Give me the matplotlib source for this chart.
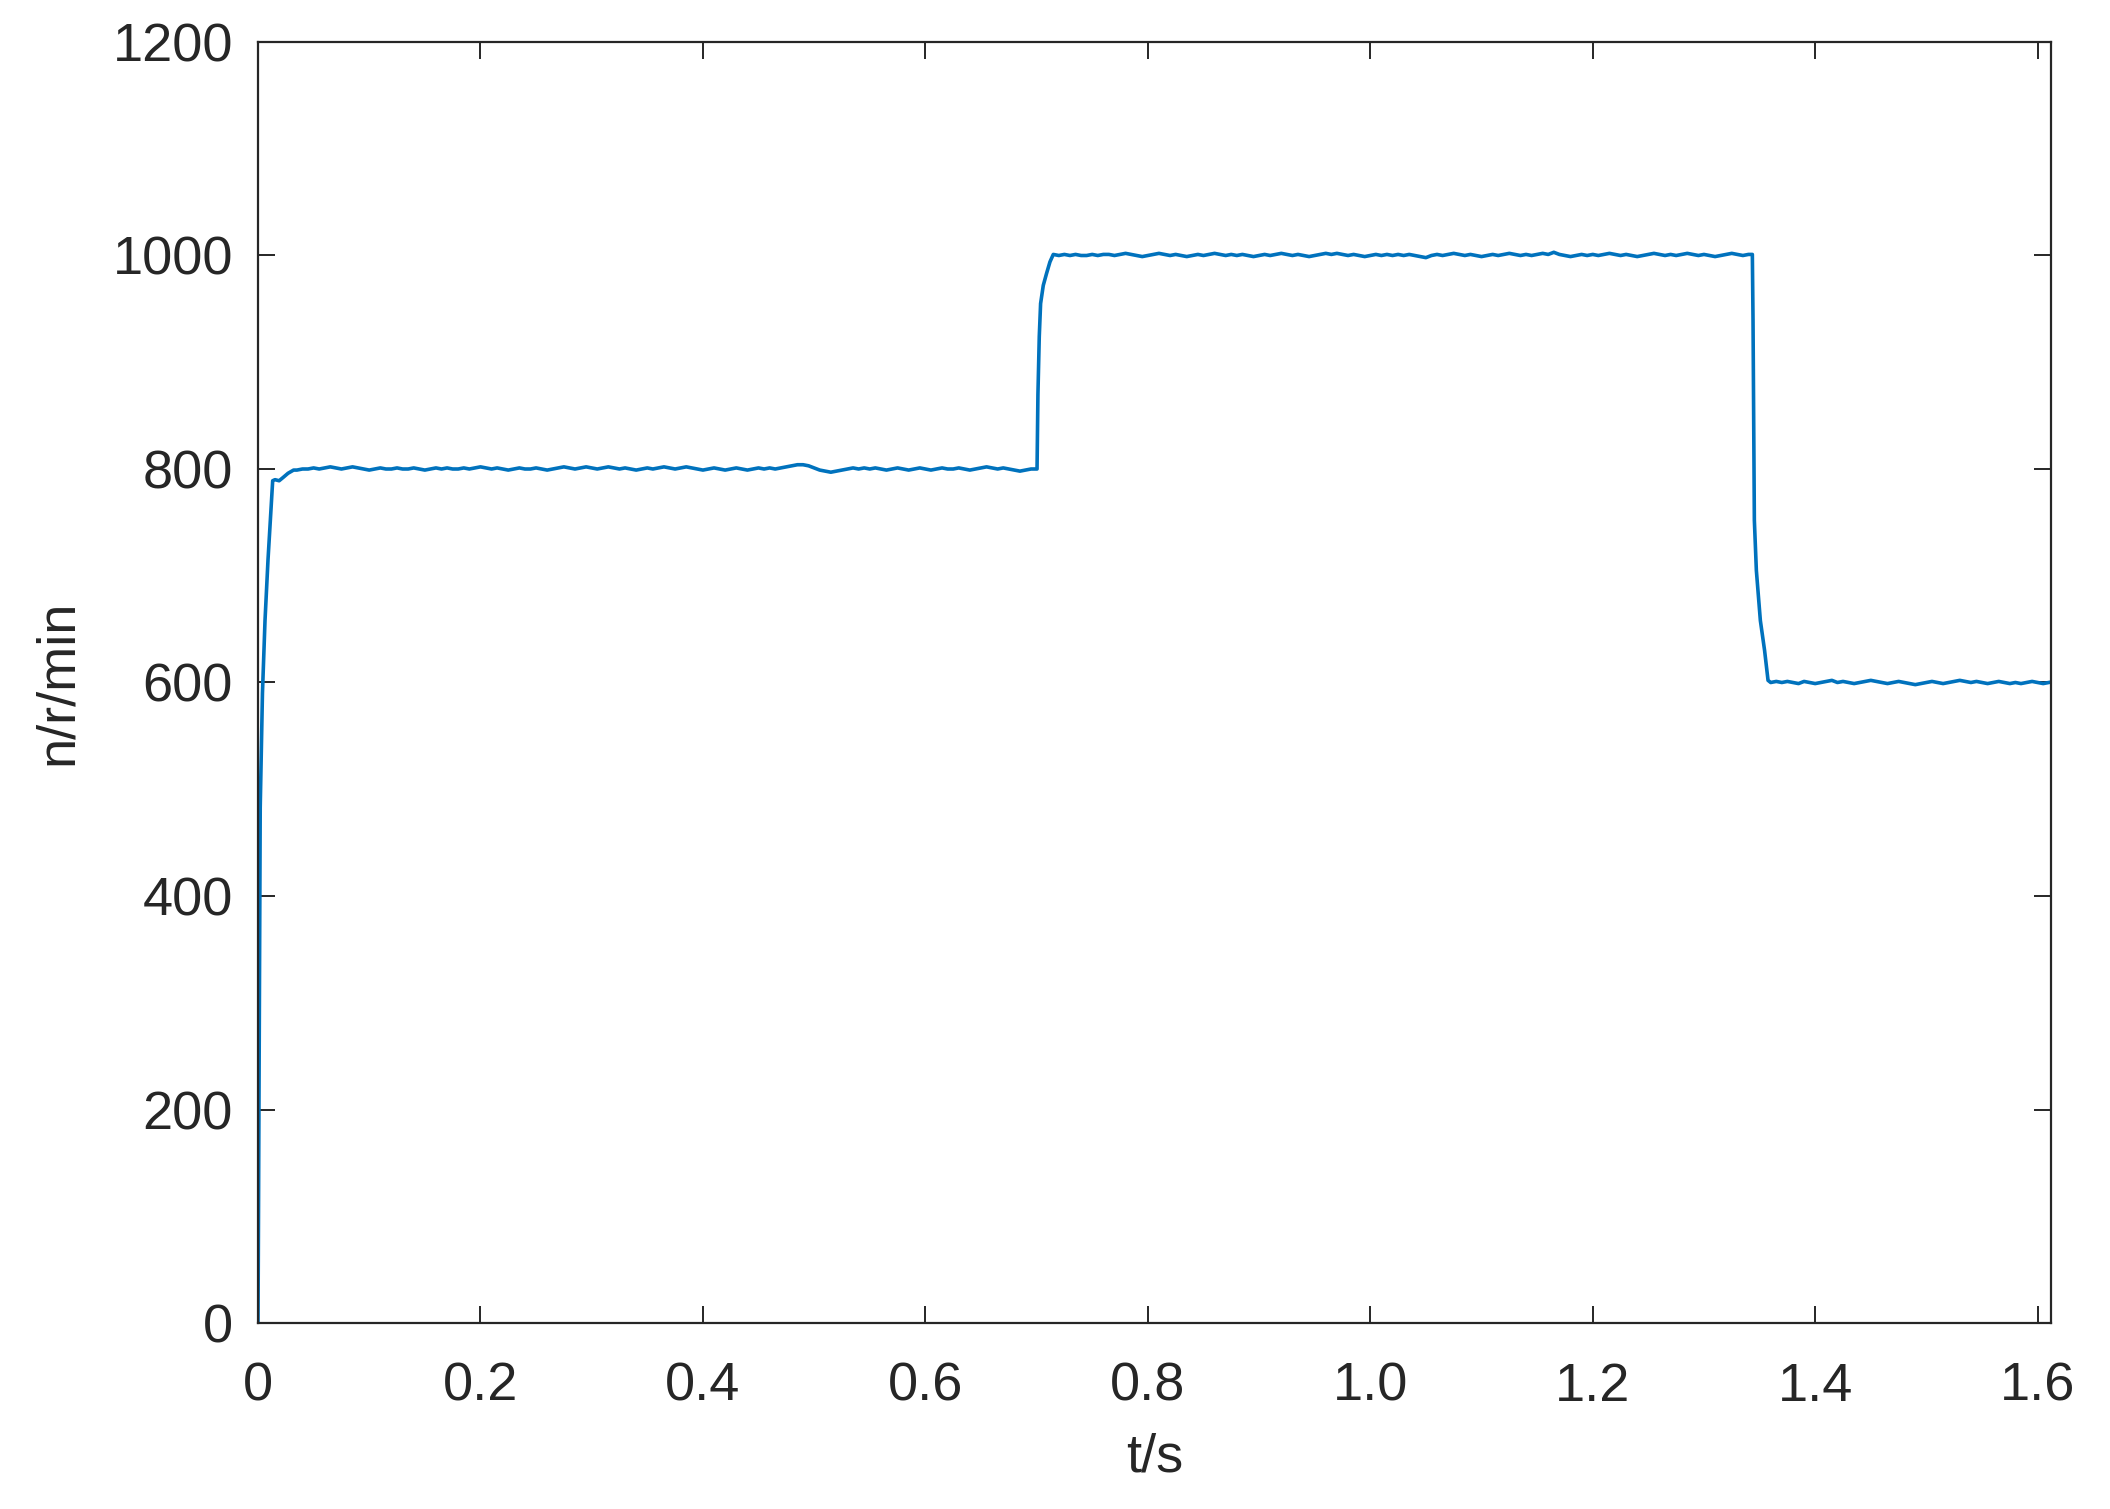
import numpy as np
import matplotlib
matplotlib.use("Agg")
import matplotlib.pyplot as plt

# ---------------- data ----------------
# start-up transient
t_start = [0.0, 0.0005, 0.002, 0.004, 0.0063, 0.009, 0.0132, 0.0153, 0.019, 0.0225, 0.027, 0.032]
n_start = [0, 115, 483, 590, 658, 715, 789, 790, 789, 792, 796, 799]

# steady 800 r/min, t = 0.035 ... 0.700 (step 0.005)
seg800_t0, seg800_t1 = 0.035, 0.700
n_800 = [799, 800, 800, 801, 800, 801, 802, 801, 800, 801,
         802, 801, 800, 799, 800, 801, 800, 800, 801, 800,
         800, 801, 800, 799, 800, 801, 800, 801, 800, 800,
         801, 800, 801, 802, 801, 800, 801, 800, 799, 800,
         801, 800, 800, 801, 800, 799, 800, 801, 802, 801,
         800, 801, 802, 801, 800, 801, 802, 801, 800, 801,
         800, 799, 800, 801, 800, 801, 802, 801, 800, 801,
         802, 801, 800, 799, 800, 801, 800, 799, 800, 801,
         800, 799, 800, 801, 800, 801, 800, 801, 802, 803,
         804, 804, 803, 801, 799, 798, 797, 798, 799, 800,
         801, 800, 801, 800, 801, 800, 799, 800, 801, 800,
         799, 800, 801, 800, 799, 800, 801, 800, 800, 801,
         800, 799, 800, 801, 802, 801, 800, 801, 800, 799,
         798, 799, 800, 800]

# step 800 -> 1000
t_up = [0.7004, 0.7012, 0.7024, 0.7036, 0.7060, 0.7089, 0.7120, 0.7149]
n_up = [800, 870, 924, 955, 972, 983, 994, 1001]

# steady 1000 r/min, t = 0.715 ... 1.340 (step 0.005)
seg1000_t0, seg1000_t1 = 0.715, 1.340
n_1000 = [1001, 1000, 1001, 1000, 1001, 1000, 1000, 1001, 1000, 1001,
          1001, 1000, 1001, 1002, 1001, 1000, 999, 1000, 1001, 1002,
          1001, 1000, 1001, 1000, 999, 1000, 1001, 1000, 1001, 1002,
          1001, 1000, 1001, 1000, 1001, 1000, 999, 1000, 1001, 1000,
          1001, 1002, 1001, 1000, 1001, 1000, 999, 1000, 1001, 1002,
          1001, 1002, 1001, 1000, 1001, 1000, 999, 1000, 1001, 1000,
          1001, 1000, 1001, 1000, 1001, 1000, 999, 998, 1000, 1001,
          1000, 1001, 1002, 1001, 1000, 1001, 1000, 999, 1000, 1001,
          1000, 1001, 1002, 1001, 1000, 1001, 1000, 1001, 1002, 1001,
          1003, 1001, 1000, 999, 1000, 1001, 1000, 1001, 1000, 1001,
          1002, 1001, 1000, 1001, 1000, 999, 1000, 1001, 1002, 1001,
          1000, 1001, 1000, 1001, 1002, 1001, 1000, 1001, 1000, 999,
          1000, 1001, 1002, 1001, 1000, 1001]

# step 1000 -> 600
t_down = [1.3435, 1.3441, 1.3447, 1.3453, 1.3471, 1.3507, 1.3545, 1.3576]
n_down = [1001, 940, 846, 752, 705, 658, 630, 602]

# steady 600 r/min, t = 1.360 ... 1.615 (step 0.005)
seg600_t0, seg600_t1 = 1.360, 1.615
n_600 = [600, 601, 600, 601, 600, 599, 601, 600, 599, 600,
         601, 602, 600, 601, 600, 599, 600, 601, 602, 601,
         600, 599, 600, 601, 600, 599, 598, 599, 600, 601,
         600, 599, 600, 601, 602, 601, 600, 601, 600, 599,
         600, 601, 600, 599, 600, 599, 600, 601, 600, 599,
         600, 601]

x_ticks = [0, 0.2, 0.4, 0.6, 0.8, 1.0, 1.2, 1.4, 1.6]
x_ticklabels = ["0", "0.2", "0.4", "0.6", "0.8", "1.0", "1.2", "1.4", "1.6"]
y_ticks = [0, 200, 400, 600, 800, 1000, 1200]
y_ticklabels = ["0", "200", "400", "600", "800", "1000", "1200"]

# ---------------- assemble ----------------
def seg_times(t0, t1, n):
    return np.linspace(t0, t1, n)

t = np.concatenate([
    t_start,
    seg_times(seg800_t0, seg800_t1, len(n_800)),
    t_up,
    seg_times(seg1000_t0, seg1000_t1, len(n_1000)),
    t_down,
    seg_times(seg600_t0, seg600_t1, len(n_600)),
])
n = np.concatenate([n_start, n_800, n_up, n_1000, n_down, n_600])

# ---------------- plot ----------------
plt.rcParams['font.family'] = ['Liberation Sans', 'DejaVu Sans']
txt = '#262626'
fs = 39

fig = plt.figure(figsize=(21.10, 15.09), dpi=100)
ax = fig.add_axes([258 / 2110, 1 - 1323 / 1509, (2051 - 258) / 2110, (1323 - 42) / 1509])

ax.plot(t, n, color='#0072BD', linewidth=2.6)

ax.set_xlim(0, 1.612)
ax.set_ylim(0, 1200)
ax.set_xticks(x_ticks)
ax.set_xticklabels(x_ticklabels)
ax.set_yticks(y_ticks)
ax.set_yticklabels(y_ticklabels)

for s in ax.spines.values():
    s.set_color(txt)
    s.set_linewidth(1.6)

ax.tick_params(axis='both', which='major', direction='in', length=12, width=1.4,
               colors=txt, labelsize=fs, top=True, right=True)
ax.tick_params(axis='x', pad=28)
ax.tick_params(axis='y', pad=18)

ax.set_xlabel('t/s', fontsize=fs, color=txt, labelpad=15)
ax.set_ylabel('n/r/min', fontsize=fs, color=txt, labelpad=21)

fig.savefig('out.png', dpi=100, facecolor='white')
